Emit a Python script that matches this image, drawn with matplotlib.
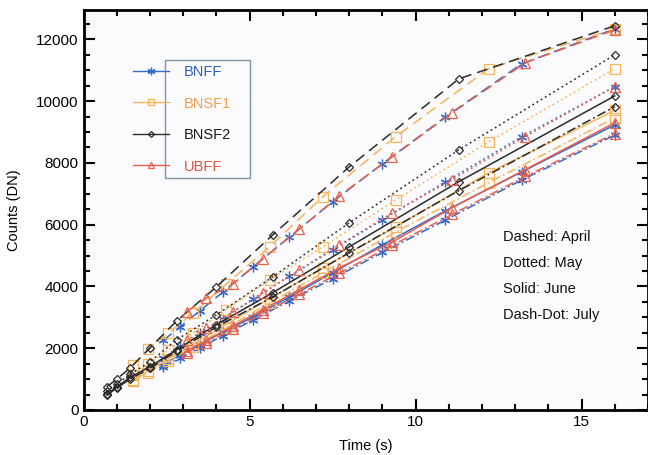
import matplotlib
matplotlib.use('Agg')
import matplotlib.pyplot as plt
from matplotlib.patches import Rectangle
from matplotlib.lines import Line2D

plt.rcParams['font.family'] = ['Liberation Sans', 'DejaVu Sans']

# exposure times (s) per detector
t_bnff = [2.4, 2.9, 3.5, 4.2, 5.1, 6.2, 7.5, 9.0, 10.9, 13.2, 16.0]
t_bnsf1 = [1.5, 1.95, 2.55, 3.3, 4.3, 5.6, 7.2, 9.4, 12.2, 16.0]
t_bnsf2 = [0.7, 1.0, 1.4, 2.0, 2.8, 4.0, 5.7, 8.0, 11.3, 16.0]
t_ubff = [3.1, 3.7, 4.5, 5.4, 6.5, 7.7, 9.3, 11.1, 13.3, 16.0]

# counts (DN): April, May, June, July
bnff_apr = [2250, 2690, 3210, 3820, 4630, 5600, 6740, 7970, 9490, 11210, 12340]
bnff_may = [1690, 2060, 2480, 2960, 3580, 4330, 5180, 6160, 7390, 8850, 10470]
bnff_jun = [1470, 1780, 2110, 2530, 3010, 3660, 4440, 5350, 6450, 7710, 9230]
bnff_jul = [1400, 1670, 2010, 2410, 2910, 3530, 4250, 5100, 6150, 7450, 8900]

bnsf1_apr = [1450, 1960, 2480, 3140, 4080, 5280, 6900, 8850, 11050, 12340]
bnsf1_may = [1140, 1480, 1930, 2500, 3250, 4200, 5280, 6800, 8680, 11050]
bnsf1_jun = [980, 1270, 1650, 2130, 2780, 3600, 4600, 5930, 7680, 9700]
bnsf1_jul = [940, 1210, 1580, 2050, 2660, 3460, 4430, 5760, 7360, 9460]

bnsf2_apr = [750, 1000, 1360, 2010, 2880, 3985, 5670, 7870, 10720, 12440]
bnsf2_may = [600, 850, 1150, 1560, 2270, 3080, 4310, 6060, 8420, 11500]
bnsf2_jun = [520, 740, 1060, 1400, 1950, 2760, 3800, 5280, 7390, 10170]
bnsf2_jul = [480, 710, 1000, 1350, 1900, 2690, 3660, 5090, 7100, 9820]

ubff_apr = [3180, 3620, 4080, 4890, 5860, 6930, 8200, 9620, 11240, 12310]
ubff_may = [2250, 2640, 3180, 3800, 4540, 5350, 6380, 7450, 8850, 10470]
ubff_jun = [1920, 2250, 2720, 3250, 3900, 4600, 5440, 6550, 7780, 9300]
ubff_jul = [1850, 2170, 2620, 3130, 3750, 4430, 5330, 6330, 7560, 8950]

detectors = ['BNFF', 'BNSF1', 'BNSF2', 'UBFF']
colors = {'BNFF': '#3568c8', 'BNSF1': '#f5b55a', 'BNSF2': '#2a2a2a', 'UBFF': '#e8604a'}
text_colors = {'BNFF': '#2d5fb8', 'BNSF1': '#f0a050', 'BNSF2': '#1a1a1a', 'UBFF': '#e4553c'}
markers = {'BNFF': (6, 2, 0), 'BNSF1': 's', 'BNSF2': 'D', 'UBFF': '^'}
msizes = {'BNFF': 7, 'BNSF1': 6.5, 'BNSF2': 4.5, 'UBFF': 6.5}
times = {'BNFF': t_bnff, 'BNSF1': t_bnsf1, 'BNSF2': t_bnsf2, 'UBFF': t_ubff}
data = {
    'BNFF': [bnff_apr, bnff_may, bnff_jun, bnff_jul],
    'BNSF1': [bnsf1_apr, bnsf1_may, bnsf1_jun, bnsf1_jul],
    'BNSF2': [bnsf2_apr, bnsf2_may, bnsf2_jun, bnsf2_jul],
    'UBFF': [ubff_apr, ubff_may, ubff_jun, ubff_jul],
}
month_styles = [(0, (7, 4)), (0, (1.2, 2)), '-', (0, (6, 2, 1.2, 2))]

fig = plt.figure(figsize=(6.48, 4.55), dpi=100)
fig.patch.set_facecolor('white')
ax = fig.add_axes([0.129, 0.099, 0.871, 0.879])
ax.set_facecolor('#fbfbfd')

for d in detectors:
    for ls, y in zip(month_styles, data[d]):
        ax.plot(times[d], y, linestyle=ls, color=colors[d], lw=1.1,
                marker=markers[d], ms=msizes[d], mfc='none',
                mec=colors[d], mew=0.9)

ax.set_xlim(0, 17)
ax.set_ylim(0, 12950)
ax.set_xticks([0, 5, 10, 15])
ax.set_xticks(range(0, 18), minor=True)
ax.set_yticks(range(0, 12001, 2000))
ax.set_yticks(range(0, 13000, 500), minor=True)
ax.tick_params(which='both', direction='in', top=True, right=True,
               labelsize=11, width=1.5)
ax.tick_params(which='major', length=8)
ax.tick_params(which='minor', length=4.5)
for s in ax.spines.values():
    s.set_linewidth(2)

ax.set_xlabel('Time (s)', fontsize=10.5, labelpad=7)
ax.set_ylabel('Counts (DN)', fontsize=10.5, labelpad=11)

# legend with box around labels only
handles = [Line2D([], [], color=colors[d], lw=1.0, marker=markers[d],
                  ms=msizes[d] - 1.5, mfc='none', mec=colors[d], mew=0.9)
           for d in detectors]
leg = ax.legend(handles, detectors, loc='upper left',
                bbox_to_anchor=(0.077, 0.877), frameon=False, fontsize=10.5,
                handlelength=2.5, handletextpad=1.0, labelspacing=1.2,
                numpoints=1, borderaxespad=0)
for txt, d in zip(leg.get_texts(), detectors):
    txt.set_color(text_colors[d])
ax.add_patch(Rectangle((0.144, 0.58), 0.151, 0.295, transform=ax.transAxes,
                       fill=False, ec='#7c98a8', lw=1.0, zorder=5))

notes = ['Dashed: April', 'Dotted: May', 'Solid: June', 'Dash-Dot: July']
for i, s in enumerate(notes):
    ax.text(0.743, 0.4325 - i * 0.065, s, transform=ax.transAxes,
            fontsize=10.5, va='center', ha='left', color='#111111')

plt.savefig('out.png', dpi=100)
